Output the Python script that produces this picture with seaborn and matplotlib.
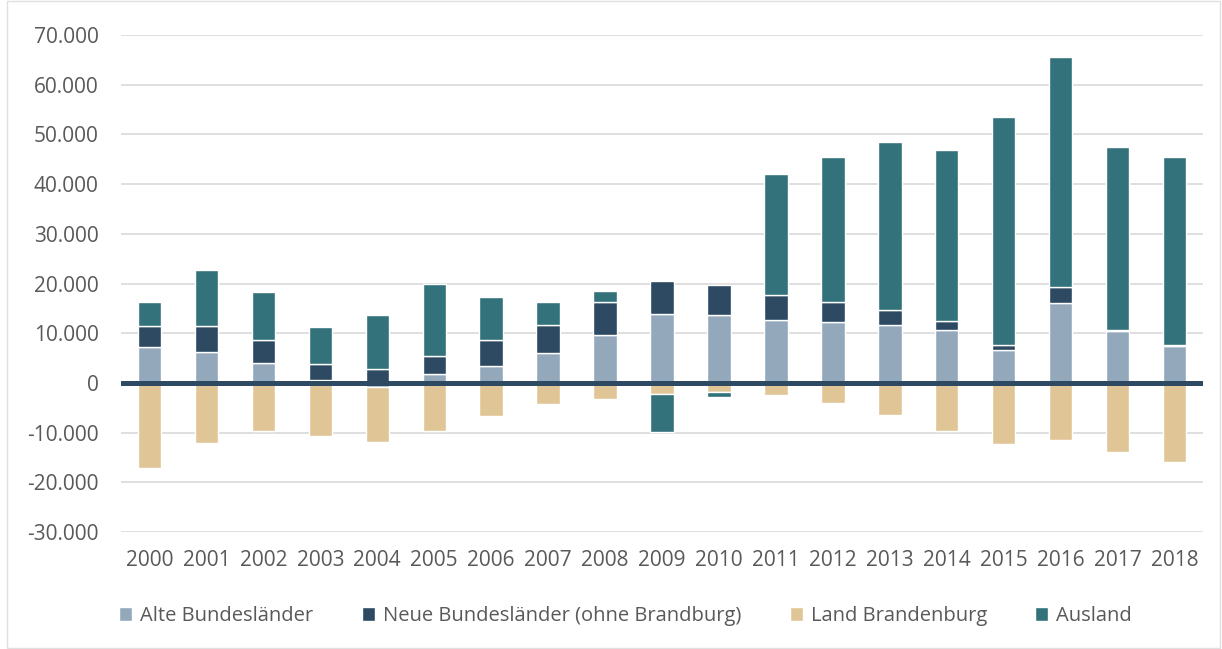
import numpy as np
import matplotlib
matplotlib.use("Agg")
import matplotlib.pyplot as plt
import seaborn as sns
from matplotlib.ticker import FuncFormatter, MultipleLocator
from matplotlib.patches import Patch

# Daten (Wanderungssalden, Personen)
jahre = [str(j) for j in range(2000, 2019)]
alte = [7300, 6200, 4100, 600, -700, 1900, 3500, 6000, 9650, 13950,
        13750, 12750, 12300, 11700, 10600, 6550, 16100, 10400, 7550]
neue = [4100, 5200, 4550, 3150, 2750, 3450, 5200, 5700, 6650, 6650,
        6050, 5050, 4000, 2900, 1800, 1200, 3150, 300, 100]
brandenburg = [-17100, -12150, -9600, -10700, -11250, -9600, -6700, -4200, -3300, -2150,
               -1750, -2400, -3950, -6500, -9600, -12350, -11400, -13800, -15850]
ausland = [4900, 11250, 9750, 7500, 10950, 14550, 8700, 4600, 2300, -7750,
           -1150, 24150, 29200, 33950, 34500, 45850, 46400, 36850, 37850]

serien = ["Alte Bundesländer", "Neue Bundesländer (ohne Brandburg)", "Land Brandenburg", "Ausland"]
werte = [alte, neue, brandenburg, ausland]
farben = ["#94A8BC", "#2E4A63", "#E0C697", "#33727A"]

sns.set_theme(style="white")
plt.rcParams['font.family'] = ['Open Sans', 'DejaVu Sans']

fig = plt.figure(figsize=(12.22, 6.49), dpi=100)
ax = fig.add_axes([0.099, 0.180, 0.8855, 0.766])

x = np.arange(len(jahre))
pos_unten = np.zeros(len(jahre))
neg_unten = np.zeros(len(jahre))
for name, vals, farbe in zip(serien, werte, farben):
    v = np.array(vals, dtype=float)
    unten = np.where(v >= 0, pos_unten, neg_unten)
    ax.bar(x, v, bottom=unten, width=0.41, color=farbe, label=name, zorder=3)
    pos_unten += np.where(v >= 0, v, 0)
    neg_unten += np.where(v < 0, v, 0)

ax.set_xlim(-0.5, len(jahre) - 0.5)
ax.set_ylim(-30000, 70000)
ax.yaxis.set_major_locator(MultipleLocator(10000))
ax.yaxis.set_major_formatter(FuncFormatter(lambda v, p: f"{int(v):,}".replace(",", ".")))
ax.grid(axis="y", color="#D9D9D9", linewidth=1.2, zorder=0)
ax.axhline(0, color="#2E4A63", linewidth=3.6, zorder=4)

ax.set_xticks(x)
ax.set_xticklabels(jahre)
ax.tick_params(axis="both", length=0, labelsize=15, labelcolor="#595959")
ax.tick_params(axis="x", pad=13)
ax.tick_params(axis="y", pad=16)
for s in ax.spines.values():
    s.set_visible(False)

handles = [Patch(facecolor=f, label=n) for n, f in zip(serien, farben)]
fig.legend(handles=handles, loc="center", bbox_to_anchor=(0.512, 0.051), ncol=4,
           frameon=False, fontsize=14.5, handlelength=0.65, handleheight=0.65,
           handletextpad=0.4, columnspacing=2.4, labelcolor="#595959")

fig.patches.append(plt.Rectangle((0.006, 0.002), 0.992, 0.996, transform=fig.transFigure,
                                 fill=False, edgecolor="#E0E0E0", linewidth=1))

fig.savefig("out.png", dpi=100)
